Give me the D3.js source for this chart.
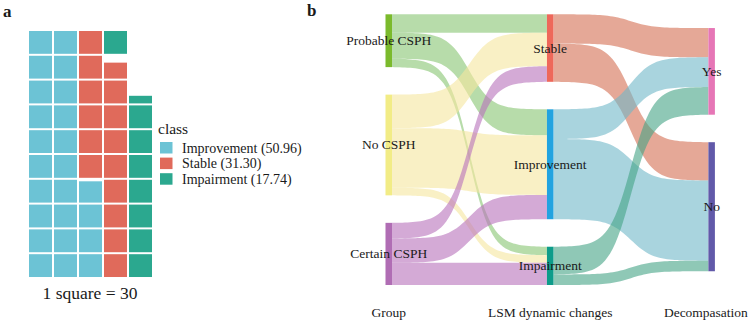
<!DOCTYPE html>
<html>
<head>
<meta charset="utf-8">
<script src="https://cdn.jsdelivr.net/npm/d3@7"></script>
<style>
  html, body { margin: 0; padding: 0; background: #fff; }
</style>
</head>
<body>
<svg id="chart" width="749" height="321" font-family="Liberation Serif, DejaVu Serif, serif"></svg>
<script>
// ---- data ----
// panel a: waffle
const wafClasses = ["Improvement", "Stable", "Impairment"];
const wafCounts = [718, 441, 250];
const perSquare = 30;

// panel b: sankey
const stages = ["Group", "LSM dynamic changes", "Decompasation"];
const groups = ["Probable CSPH", "No CSPH", "Certain CSPH"];
const lsm = ["Stable", "Improvement", "Impairment"];
const decomp = ["Yes", "No"];
// rows = group, cols = lsm
const groupToLsm = [
    [120, 170, 55],
    [219, 389, 50],
    [102, 159, 145]
];
// rows = lsm, cols = decomp
const lsmToDecomp = [
    [191, 250],
    [194, 524],
    [181, 69]
];

const FONT = "'Liberation Serif', 'DejaVu Serif', serif";
const wafColor = d3.scaleOrdinal().domain(wafClasses).range(["#6cc3d5", "#e06a5b", "#2ba88f"]);
const nodeColor = {
    "Probable CSPH": "#7bba2c", "No CSPH": "#f2ec86", "Certain CSPH": "#b06db4",
    "Stable": "#ee685a", "Improvement": "#22a3e0", "Impairment": "#0e9c8a",
    "Yes": "#e676b6", "No": "#6159a9"
};
const flowColor = {
    "Probable CSPH": "#87c571", "No CSPH": "#f5e69e", "Certain CSPH": "#b771bb",
    "Stable": "#d46e52", "Improvement": "#70b7c8", "Impairment": "#44a385"
};

const svg = d3.select("#chart");

function label(sel, size) {
    return sel.style("font-family", FONT).style("font-size", size).style("fill", "#1a1a1a");
}

// ================= panel a =================
function drawWaffle() {
    const nRows = 10;
    // lay squares out column by column, bottom to top; each class starts in a new cell
    const cells = [];
    let idx = 0;
    wafClasses.forEach((c, i) => {
        let n = wafCounts[i] / perSquare;
        while (n > 1e-6) {
            const f = Math.min(1, n);
            cells.push({ cls: c, col: Math.floor(idx / nRows), row: idx % nRows, frac: f });
            n -= f;
            idx++;
        }
    });
    const nCols = d3.max(cells, d => d.col) + 1;

    const x = d3.scaleBand().domain(d3.range(nCols)).range([28, 153]).paddingInner(0.08).paddingOuter(0.04);
    const y = d3.scaleBand().domain(d3.range(nRows).reverse()).range([30, 278]).paddingInner(0.08).paddingOuter(0.04);

    svg.append("g").selectAll("rect")
        .data(cells)
        .enter().append("rect")
        .attr("x", d => x(d.col))
        .attr("y", d => y(d.row) + y.bandwidth() * (1 - d.frac))
        .attr("width", x.bandwidth())
        .attr("height", d => y.bandwidth() * d.frac)
        .attr("fill", d => wafColor(d.cls));

    svg.append("text")
        .attr("x", 90).attr("y", 293)
        .attr("text-anchor", "middle").attr("dominant-baseline", "central")
        .call(label, "17.5px")
        .text(`1 square = ${perSquare}`);

    // legend
    const total = d3.sum(wafCounts);
    const lg = svg.append("g").attr("transform", "translate(160,0)");
    lg.append("text").attr("x", -2).attr("y", 128)
        .attr("dominant-baseline", "central")
        .call(label, "15.5px").text("class");
    const items = lg.selectAll(".item")
        .data(wafClasses)
        .enter().append("g")
        .attr("transform", (d, i) => `translate(0,${142 + i * 15.6})`);
    items.append("rect").attr("width", 12.5).attr("height", 11.5).attr("fill", d => wafColor(d));
    items.append("text")
        .attr("x", 22).attr("y", 6)
        .attr("dominant-baseline", "central")
        .call(label, "14px")
        .text((d, i) => `${d} (${(wafCounts[i] / total * 100).toFixed(2)})`);

    svg.append("text").attr("x", 3).attr("y", 17)
        .call(label, "17px").style("font-weight", "bold").text("a");
}

// ================= panel b =================
function drawSankey() {
    const nodeW = 6.5;
    const gap = 27.5;
    const top = 14.3, bottom = 285;
    const total = d3.sum(groupToLsm.flat());
    const xStage = d3.scalePoint().domain(stages).range([388.75, 711.65]);
    const k = d3.scaleLinear().domain([0, total]).range([0, (bottom - top) - 2 * gap]);
    const center = (top + bottom) / 2;

    const cols = [
        { stage: stages[0], names: groups, values: groupToLsm.map(r => d3.sum(r)) },
        { stage: stages[1], names: lsm, values: lsm.map((d, j) => d3.sum(groupToLsm, r => r[j])) },
        { stage: stages[2], names: decomp, values: decomp.map((d, j) => d3.sum(lsmToDecomp, r => r[j])) }
    ];
    const nodes = {};
    cols.forEach(c => {
        const h = k(d3.sum(c.values)) + gap * (c.names.length - 1);
        let y = center - h / 2;
        c.names.forEach((n, i) => {
            const hh = k(c.values[i]);
            nodes[c.stage + n] = { name: n, stage: c.stage, x: xStage(c.stage), y0: y, y1: y + hh, outY: y, inY: y };
            y += hh + gap;
        });
    });

    const links = [];
    function addLinks(srcNames, srcStage, tgtNames, tgtStage, m) {
        // outflows stacked in target order, inflows in source order
        srcNames.forEach((s, i) => tgtNames.forEach((t, j) => {
            const sn = nodes[srcStage + s];
            links.push({ src: s, s: sn, t: nodes[tgtStage + t], v: m[i][j], sy: sn.outY });
            sn.outY += k(m[i][j]);
        }));
        tgtNames.forEach((t, j) => srcNames.forEach((s, i) => {
            const tn = nodes[tgtStage + t];
            const l = links.find(l => l.s === nodes[srcStage + s] && l.t === tn);
            l.ty = tn.inY;
            tn.inY += k(m[i][j]);
        }));
    }
    addLinks(groups, stages[0], lsm, stages[1], groupToLsm);
    addLinks(lsm, stages[1], decomp, stages[2], lsmToDecomp);

    // sigmoid ribbon like ggsankey
    const smooth = 7;
    const sig = t => 1 / (1 + Math.exp(-smooth * (2 * t - 1)));
    const s0 = sig(0), s1 = sig(1);
    const area = d3.area().x(d => d.x).y0(d => d.y0).y1(d => d.y1);
    function ribbon(l) {
        const x0 = l.s.x + nodeW / 2, x1 = l.t.x - nodeW / 2, h = k(l.v);
        const pts = d3.range(0, 61).map(i => {
            const t = i / 60;
            const f = (sig(t) - s0) / (s1 - s0);
            const yy = l.sy + (l.ty - l.sy) * f;
            return { x: x0 + (x1 - x0) * t, y0: yy, y1: yy + h };
        });
        return area(pts);
    }

    svg.append("g").selectAll("path")
        .data(links)
        .enter().append("path")
        .attr("d", ribbon)
        .attr("fill", d => flowColor[d.src])
        .attr("fill-opacity", 0.6);

    const nodeArr = Object.values(nodes);
    svg.append("g").selectAll("rect")
        .data(nodeArr)
        .enter().append("rect")
        .attr("x", d => d.x - nodeW / 2)
        .attr("y", d => d.y0)
        .attr("width", nodeW)
        .attr("height", d => d.y1 - d.y0)
        .attr("fill", d => nodeColor[d.name]);

    svg.append("g").selectAll("text")
        .data(nodeArr)
        .enter().append("text")
        .attr("x", d => d.x)
        .attr("y", d => (d.y0 + d.y1) / 2)
        .attr("text-anchor", "middle")
        .attr("dominant-baseline", "central")
        .call(label, "13.5px")
        .text(d => d.name);

    // stage labels along the bottom
    svg.append("g").selectAll("text")
        .data(stages)
        .enter().append("text")
        .attr("x", d => xStage(d))
        .attr("y", 312)
        .attr("text-anchor", "middle")
        .attr("dominant-baseline", "central")
        .call(label, "13.5px")
        .text(d => d)
        .each(function () {
            const b = this.getBBox();
            if (b.x + b.width > 748) d3.select(this).attr("x", 748 - b.width / 2);
        });

    svg.append("text").attr("x", 307).attr("y", 16)
        .call(label, "17px").style("font-weight", "bold").text("b");
}

drawWaffle();
drawSankey();
</script>
</body>
</html>
